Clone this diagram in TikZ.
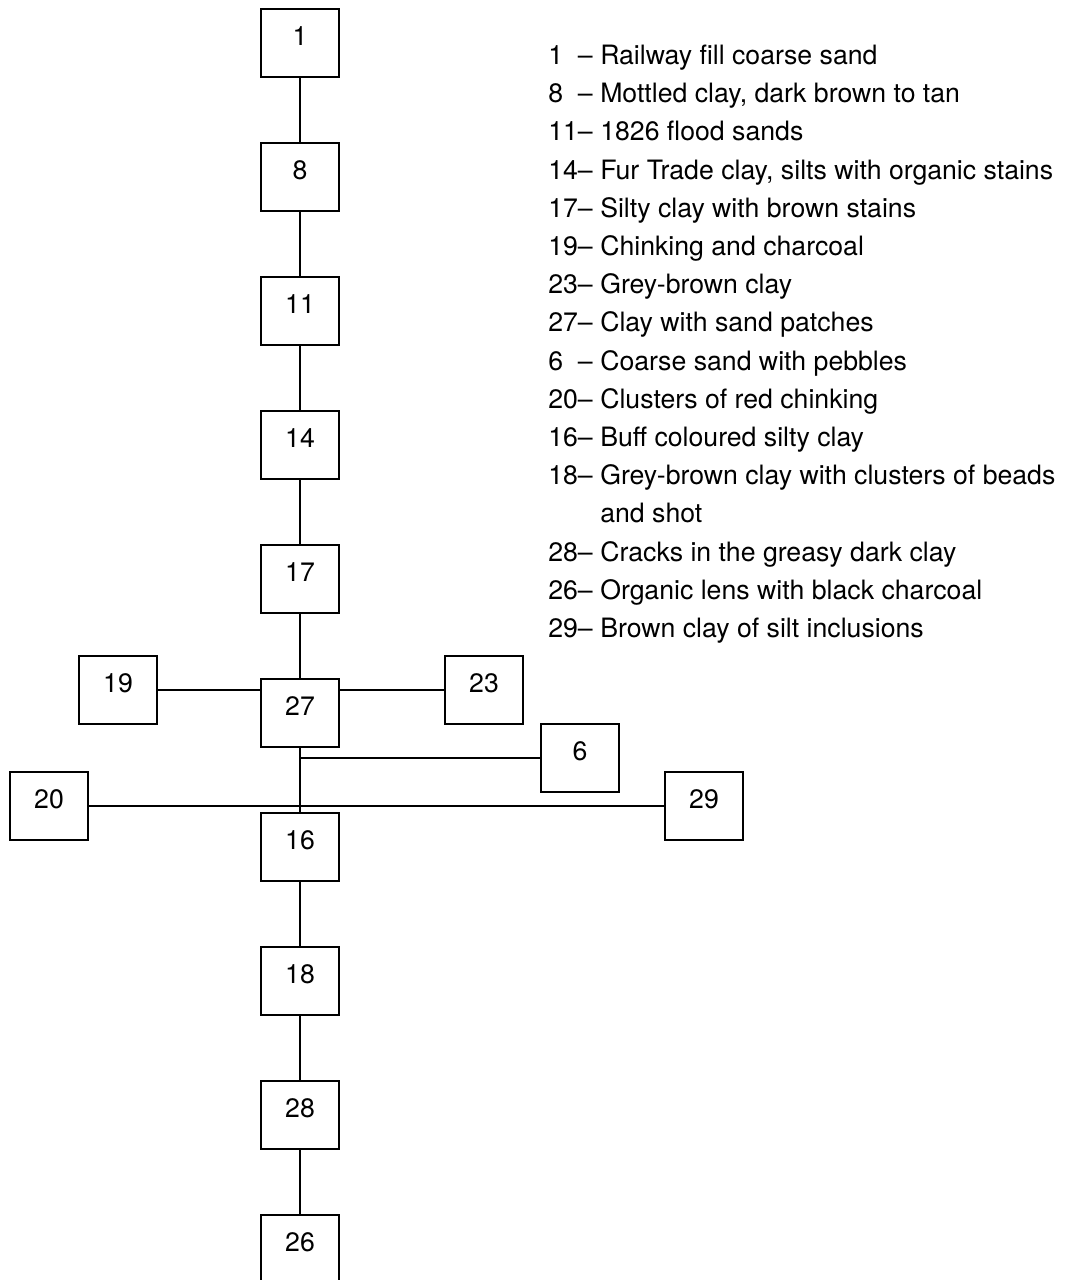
\documentclass[tikz,border=0pt]{standalone}
\usepackage{fontspec}
\setmainfont{TeX Gyre Heros}

\begin{document}
\begin{tikzpicture}[x=0.75pt,y=-0.75pt,
  layer/.style={draw, line width=1.1pt, minimum width=58.5pt, minimum height=51pt,
    inner sep=0pt, text height=14.25pt, text depth=10.5pt, font=\fontsize{20}{24}\selectfont},
  key/.style={anchor=base west, inner sep=0pt, font=\fontsize{20}{24}\selectfont},
  link/.style={line width=1.1pt}]
\useasboundingbox (0,0) rectangle (1067,1280);
% main column of layers
\foreach \n [count=\i from 0] in {1,8,11,14,17,27,16,18,28,26} {
  \node [layer] (L\n) at (300,43+134*\i) {\n};
}
\foreach \a/\b in {1/8,8/11,11/14,14/17,17/27,27/16,16/18,18/28,28/26} {
  \draw [link] (L\a) -- (L\b);
}
% side layers
\node [layer] (L19) at (118,690) {19};
\node [layer] (L23) at (484,690) {23};
\node [layer] (L6)  at (580,758) {6};
\node [layer] (L20) at (49,806)  {20};
\node [layer] (L29) at (704,806) {29};
\draw [link] (L19) -- (L19 -| L27.west);
\draw [link] (L23) -- (L23 -| L27.east);
\draw [link] (L6) -- (L6 -| L27.south);
\draw [link] (L20) -- (L29);
% key
\foreach \num/\txt [count=\i from 0] in {
  1\phantom{0}--/Railway fill coarse sand,
  8\phantom{0}--/{Mottled clay, dark brown to tan},
  11--/1826 flood sands,
  14--/{Fur Trade clay, silts with organic stains},
  17--/Silty clay with brown stains,
  19--/Chinking and charcoal,
  23--/Grey-brown clay,
  27--/Clay with sand patches,
  6\phantom{0}--/Coarse sand with pebbles,
  20--/Clusters of red chinking,
  16--/Buff coloured silty clay,
  18--/Grey-brown clay with clusters of beads,
  {}/and shot,
  28--/Cracks in the greasy dark clay,
  26--/Organic lens with black charcoal,
  29--/Brown clay of silt inclusions} {
  \node [key] (key\i) at (548,64.5+38.2*\i) {\makebox[39pt][l]{\num}\txt};
}
\end{tikzpicture}
\end{document}
